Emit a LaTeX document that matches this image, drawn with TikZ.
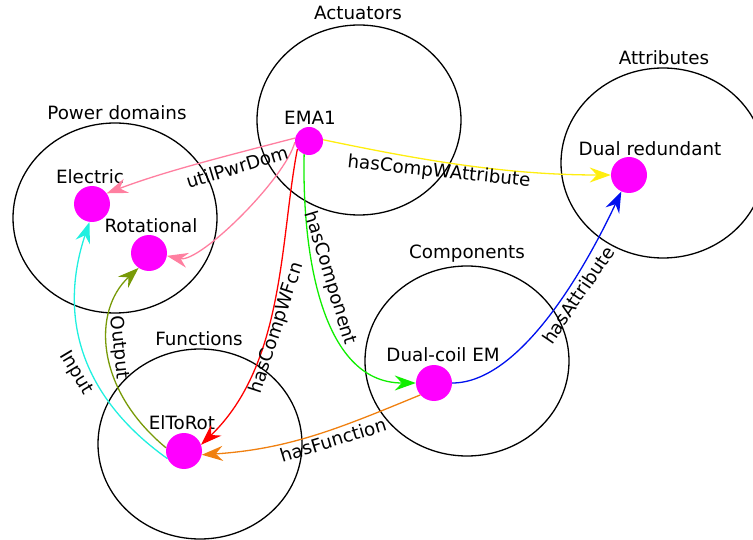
\documentclass[tikz,border=0pt]{standalone}
\usepackage{fontspec}
\setmainfont{DejaVu Sans}
\usetikzlibrary{arrows.meta,shapes.geometric}
\definecolor{cmag}{HTML}{FF00FF}
\definecolor{cpink}{HTML}{FF7FA0}
\definecolor{cyel}{HTML}{FFEE10}
\definecolor{cgreen}{HTML}{10EE00}
\definecolor{cred}{HTML}{FF0000}
\definecolor{cblue}{HTML}{0010EE}
\definecolor{corange}{HTML}{F08010}
\definecolor{ccyan}{HTML}{20F0E0}
\definecolor{colive}{HTML}{789A08}
\begin{document}
\begin{tikzpicture}[x=1pt,y=1pt,font=\fontsize{18.3}{22}\selectfont,
  grp/.style={ellipse, draw=black, line width=1.3pt, minimum width=204pt, minimum height=190pt, inner sep=0pt},
  dot/.style={circle, fill=cmag, draw=none, minimum size=36pt, inner sep=0pt},
  conn/.style={line width=1.3pt, -{Stealth[length=21pt,width=15pt,inset=7pt]}},
]
\useasboundingbox (0,0) rectangle (753,539);
\clip (0,0) rectangle (753,539);
% groups
\node[grp] (actE) at (359,419) {};
\node[grp] (pdE) at (115,321) {};
\node[grp] (fnE) at (200,95) {};
\node[grp] (cmE) at (467,178) {};
\node[grp] (atE) at (663,376) {};
\node (actL) at (358,526) {Actuators};
\node (pdL) at (117,426) {Power domains};
\node (fnL) at (199,200) {Functions};
\node (cmL) at (467,285) {Components};
\node (atL) at (664,481) {Attributes};
% dots
\node[dot, minimum size=28pt] (ema) at (309,398) {};
\node[dot] (ele) at (92,335) {};
\node[dot] (rot) at (149,286) {};
\node[dot] (dr) at (629,364) {};
\node[dot] (dc) at (434,156) {};
\node[dot] (etr) at (184,88) {};
\node (emaL) at (310,421) {EMA1};
\node (eleL) at (90,362) {Electric};
\node (rotL) at (151,313) {Rotational};
\node (drL) at (650,390) {Dual redundant};
\node (dcL) at (443,184) {Dual-coil EM};
\node (etrL) at (182,116) {ElToRot};
% connectors
\draw[conn, cpink] (ema.168) .. controls (218,381) and (163,367) .. (ele.36);
\draw[conn, cpink] (ema.185) .. controls (285,360) and (200,276) .. (rot.-9);
\draw[conn, cyel] (ema.5) .. controls (411,381) and (501,364) .. (dr.180);
\draw[conn, cgreen] (ema.250) .. controls (302,290) and (320,156) .. (dc.180);
\draw[conn, cred] (ema.215) .. controls (280,300) and (285,175) .. (etr.20);
\draw[conn, cblue] (dc.0) .. controls (520,156) and (585,270) .. (dr.245);
\draw[conn, corange] (dc.221) .. controls (340,111) and (290,90) .. (etr.-12);
\draw[conn, ccyan] (etr.205) .. controls (70,150) and (62,235) .. (ele.-98);
\draw[conn, colive] (etr.170) .. controls (95,150) and (92,228) .. (rot.-125);
% edge labels
\node[rotate=17] (l1) at (237,372) {utilPwrDom};
\node[rotate=-6] (l2) at (439,367) {hasCompWAttribute};
\node[rotate=-73] (l3) at (330,261) {hasComponent};
\node[rotate=72] (l4) at (277,211) {hasCompWFcn};
\node[rotate=56] (l5) at (578,244) {hasAttribute};
\node[rotate=17] (l6) at (333,99) {hasFunction};
\node[rotate=-59] (l7) at (76,166) {Input};
\node[rotate=-84] (l8) at (119,191) {Output};
\end{tikzpicture}
\end{document}
